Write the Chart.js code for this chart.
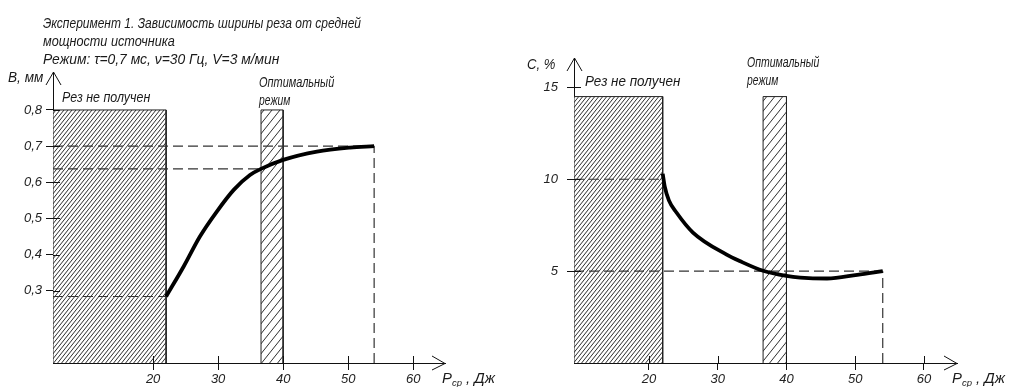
<!DOCTYPE html>
<html><head><meta charset="utf-8">
<script src="https://cdn.jsdelivr.net/npm/chart.js@4.4.0/dist/chart.umd.min.js"></script>
<style>
html,body{margin:0;padding:0;background:#fff;}
#wrap{position:relative;width:1011px;height:387px;overflow:hidden;background:#fff;}
canvas{position:absolute;top:0;}
.t{position:absolute;font-family:"Liberation Sans",sans-serif;font-style:italic;font-size:14px;color:#1a1a1a;white-space:nowrap;line-height:16px;transform-origin:0 50%;}
.t sub{font-size:9px;vertical-align:-3px;}
</style></head><body>
<div id="wrap">
<canvas id="c1" width="500" height="387" style="left:0"></canvas>
<canvas id="c2" width="511" height="387" style="left:500px"></canvas>
<div class="t" data-w="318" style="left:43px;top:15px">Эксперимент 1. Зависимость ширины реза от средней</div>
<div class="t" data-w="132" style="left:43px;top:33px">мощности источника</div>
<div class="t" data-w="236" style="left:43px;top:51px">Режим: τ=0,7 мс, ν=30 Гц, V=3 м/мин</div>
<div class="t" data-w="35" style="left:8px;top:69px">B, мм</div>
<div class="t" data-w="88" style="left:62px;top:89px">Рез не получен</div>
<div class="t" data-w="75" style="left:259px;top:74px">Оптимальный</div>
<div class="t" data-w="31" style="left:259px;top:92px">режим</div>
<div class="t" data-w="53" style="left:442px;top:370px">P<sub>ср</sub> , Дж</div>
<div class="t" data-w="28" style="left:527px;top:56px">C, %</div>
<div class="t" data-w="95" style="left:585px;top:73px">Рез не получен</div>
<div class="t" data-w="72" style="left:747px;top:54px">Оптимальный</div>
<div class="t" data-w="31" style="left:747px;top:72px">режим</div>
<div class="t" data-w="53" style="left:952px;top:370px">P<sub>ср</sub> , Дж</div>
</div>
<script>
// ---- data ----
const powerTicks = [20, 30, 40, 50, 60];
const widthTicks = [0.3, 0.4, 0.5, 0.6, 0.7, 0.8];
const defectTicks = [5, 10, 15];

const widthPower = [22, 24.7, 27.2, 29.8, 32.4, 34.9, 36.6, 40, 45.2, 50.3, 54];
const widthValues = [0.284, 0.367, 0.45, 0.519, 0.579, 0.62, 0.637, 0.662, 0.685, 0.696, 0.70];

const defectPower = [22, 22.3, 22.9, 24.0, 26.4, 31.3, 33.2, 36.6, 40, 42, 45.9, 50.3, 54];
const defectValues = [10.3, 9.6, 8.85, 8.19, 7.1, 5.9, 5.55, 5.02, 4.74, 4.65, 4.6, 4.8, 5.0];

const noCutEdge = 22;            // Рез не получен: up to 22 J
const optimalRange = [36.6, 40]; // Оптимальный режим
const widthZoneTop = 0.8;
const defectZoneTop = 14.5;
const widthRefLines = [0.7, 0.637, 0.284];
const widthRefEnds = [54, 36.6, 22];
const defectRefLines = [10, 5];
const defectRefEnds = [22, 54];
const endPower = 54;

// scale ranges
const L = {xMin: 4.6, xMax: 64.9, yMin: 0.1, yMax: 0.905};
const R = {xMin: 9.1, xMax: 64.8, yMin: 0, yMax: 16.6};

const FONT = {family: '"Liberation Sans",sans-serif', size: 13, style: 'italic'};

function hatch(w, h) {
  const c = document.createElement('canvas');
  c.width = w; c.height = h;
  const g = c.getContext('2d');
  g.fillStyle = '#fff'; g.fillRect(0, 0, w, h);
  g.strokeStyle = '#2e2e2e'; g.lineWidth = 1;
  g.beginPath();
  for (const o of [-w, 0, w]) { g.moveTo(o, h); g.lineTo(o + w, 0); }
  g.stroke();
  return g.createPattern(c, 'repeat');
}
function rect(x0, x1, y0, y1) {
  return [{x: x0, y: y0}, {x: x0, y: y1}, {x: x1, y: y1}, {x: x1, y: y0}];
}
const extras = {
  id: 'extras',
  afterDatasetsDraw(chart) {
    const {ctx, chartArea: a, scales: {x, y}} = chart;
    ctx.save();
    ctx.strokeStyle = '#111'; ctx.lineWidth = 1;
    ctx.beginPath();
    x.ticks.forEach(t => { const p = Math.round(x.getPixelForValue(t.value)) + 0.5; ctx.moveTo(p, a.bottom); ctx.lineTo(p, a.bottom - 7); });
    y.ticks.forEach(t => { const p = Math.round(y.getPixelForValue(t.value)) + 0.5; ctx.moveTo(a.left, p); ctx.lineTo(a.left + 7, p); });
    ctx.stroke();
    ctx.beginPath();
    ctx.moveTo(a.left - 7, a.top + 13); ctx.lineTo(a.left + 0.5, a.top); ctx.lineTo(a.left + 8, a.top + 13);
    ctx.moveTo(a.right - 13, a.bottom - 7); ctx.lineTo(a.right, a.bottom + 0.5); ctx.lineTo(a.right - 13, a.bottom + 7);
    ctx.stroke();
    ctx.restore();
  }
};
const dash = (pts) => ({data: pts, borderColor: '#333', borderWidth: 1.2, borderDash: [10, 5], pointRadius: 0, fill: false, tension: 0, order: 2});

function makeChart(id, cfg) {
  const datasets = [];
  datasets.push({data: cfg.curve, borderColor: '#000', borderWidth: 3.8, pointRadius: 0, fill: false, cubicInterpolationMode: 'monotone', order: 0});
  cfg.dashes.forEach(d => datasets.push(dash(d)));
  datasets.push({data: rect(cfg.R.xMin, noCutEdge, cfg.R.yMin, cfg.zoneTop), borderColor: '#222', borderWidth: 1, backgroundColor: hatch(4, 5), fill: 'start', pointRadius: 0, tension: 0, order: 4});
  datasets.push({data: rect(optimalRange[0], optimalRange[1], cfg.R.yMin, cfg.zoneTop), borderColor: '#222', borderWidth: 1, backgroundColor: hatch(8, 10), fill: 'start', pointRadius: 0, tension: 0, order: 4});
  return new Chart(document.getElementById(id), {
    type: 'line',
    data: {datasets},
    plugins: [extras],
    options: {
      responsive: false, animation: false, events: [],
      layout: {padding: cfg.pad},
      plugins: {legend: {display: false}, tooltip: {enabled: false}, title: {display: false}},
      scales: {
        x: {type: 'linear', min: cfg.R.xMin, max: cfg.R.xMax,
          afterBuildTicks: s => { s.ticks = powerTicks.map(v => ({value: v})); },
          afterFit: s => { s.height = 24; },
          ticks: {font: FONT, color: '#222', padding: 2, maxRotation: 0, callback: v => String(v)},
          grid: {drawOnChartArea: false, drawTicks: true, tickLength: 7, color: '#111'},
          border: {display: true, color: '#111', width: 1}},
        y: {type: 'linear', min: cfg.R.yMin, max: cfg.R.yMax,
          afterBuildTicks: s => { s.ticks = cfg.yTicks.map(v => ({value: v})); },
          afterFit: s => { s.width = cfg.yWidth; },
          ticks: {font: FONT, color: '#222', padding: cfg.yPad, callback: cfg.fmt},
          grid: {drawOnChartArea: false, drawTicks: true, tickLength: 7, color: '#111'},
          border: {display: true, color: '#111', width: 1}}
      }
    }
  });
}

makeChart('c1', {
  R: L, zoneTop: widthZoneTop, yTicks: widthTicks, yWidth: 53, yPad: 4,
  pad: {left: 0, top: 72, right: 55, bottom: 0},
  fmt: v => v.toFixed(1).replace('.', ','),
  curve: widthPower.map((p, i) => ({x: p, y: widthValues[i]})),
  dashes: widthRefLines.map((v, i) => [{x: L.xMin, y: v}, {x: widthRefEnds[i], y: v}])
    .concat([[{x: endPower, y: L.yMin}, {x: endPower, y: widthValues[widthValues.length - 1]}]])
});
makeChart('c2', {
  R: R, zoneTop: defectZoneTop, yTicks: defectTicks, yWidth: 74, yPad: 9,
  pad: {left: 0, top: 58, right: 54, bottom: 0},
  fmt: v => String(v),
  curve: defectPower.map((p, i) => ({x: p, y: defectValues[i]})),
  dashes: defectRefLines.map((v, i) => [{x: R.xMin, y: v}, {x: defectRefEnds[i], y: v}])
    .concat([[{x: endPower, y: R.yMin}, {x: endPower, y: defectValues[defectValues.length - 1]}]])
});

// fit label widths to the drawing
document.querySelectorAll('.t[data-w]').forEach(el => {
  const w = el.offsetWidth;
  const target = parseFloat(el.dataset.w);
  if (w > 0) el.style.transform = 'scaleX(' + (target / w).toFixed(3) + ')';
});
</script>
</body></html>
